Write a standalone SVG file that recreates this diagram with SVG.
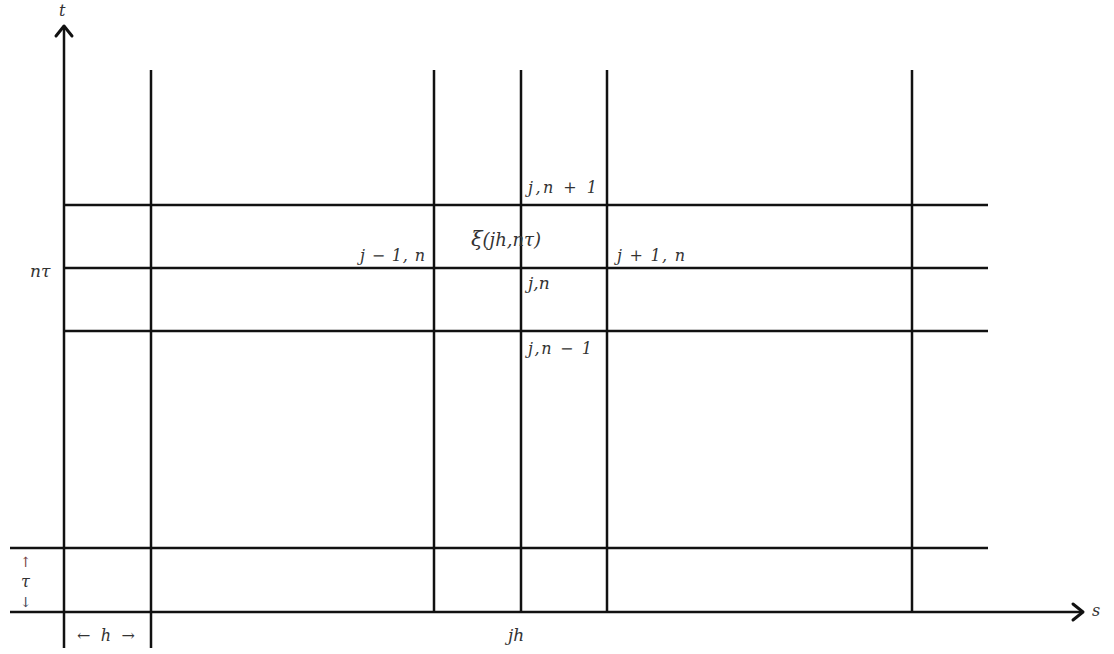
<svg xmlns="http://www.w3.org/2000/svg" width="1114" height="654" viewBox="0 0 1114 654">
<style>
.ln{stroke:#111;stroke-width:2.5;fill:none}
.ah{stroke:#111;stroke-width:3;fill:none;stroke-linecap:round;stroke-linejoin:round}
text{font-family:"DejaVu Serif","Liberation Serif",serif;font-style:italic;fill:#333;font-size:16px}
.up{font-style:normal}
</style>
<rect width="1114" height="654" fill="#fff"/>
<g id="connectors">
<line class="ln" x1="64" y1="26" x2="64" y2="648"/>
<polyline class="ah" points="56,36 64,26 72,36"/>
<line class="ln" x1="10" y1="612" x2="1083" y2="612"/>
<polyline class="ah" points="1073,604 1083,612 1073,620"/>
<line class="ln" x1="151" y1="70" x2="151" y2="648"/>
<line class="ln" x1="434" y1="70" x2="434" y2="612"/>
<line class="ln" x1="521" y1="70" x2="521" y2="612"/>
<line class="ln" x1="607" y1="70" x2="607" y2="612"/>
<line class="ln" x1="912" y1="70" x2="912" y2="612"/>
<line class="ln" x1="64" y1="205" x2="988" y2="205"/>
<line class="ln" x1="64" y1="268" x2="988" y2="268"/>
<line class="ln" x1="64" y1="331" x2="988" y2="331"/>
<line class="ln" x1="10" y1="548" x2="988" y2="548"/>
</g>
<g id="labels">
<text x="59" y="16">t</text>
<text x="1092" y="616">s</text>
<text x="528" y="193" textLength="69" lengthAdjust="spacing">j,n + 1</text>
<text x="471" y="246" style="font-size:21px">ξ<tspan style="font-size:18px">(jh,nτ)</tspan></text>
<text x="360" y="261" textLength="65" lengthAdjust="spacing">j − 1, n</text>
<text x="617" y="261" textLength="68" lengthAdjust="spacing">j + 1, n</text>
<text x="528" y="289" style="font-size:17px">j,n</text>
<text x="528" y="354" textLength="64" lengthAdjust="spacing">j,n − 1</text>
<text x="30" y="277" style="font-size:17px">nτ</text>
<text x="20" y="567" class="up" style="font-size:14px;fill:#744">↑</text>
<text x="21" y="587">τ</text>
<text x="20" y="607" class="up" style="font-size:14px;fill:#445">↓</text>
<text x="77" y="641" textLength="58" lengthAdjust="spacing"><tspan style="font-style:normal">←</tspan> h <tspan style="font-style:normal">→</tspan></text>
<text x="508" y="641" style="font-size:17px">jh</text>
</g>
</svg>
